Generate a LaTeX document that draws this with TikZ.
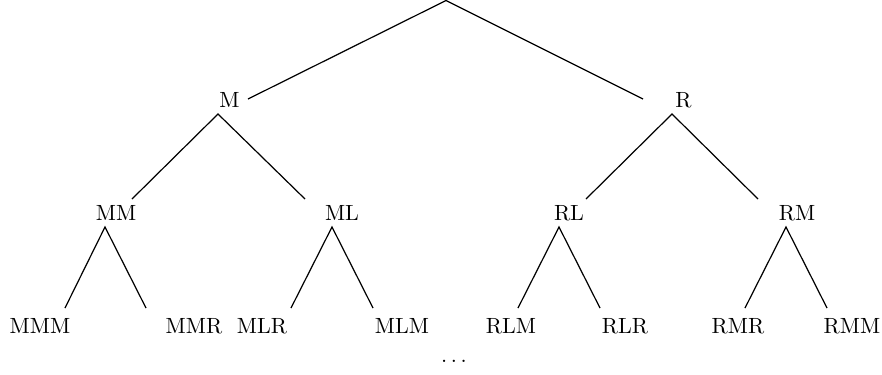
\documentclass[tikz,border=0pt]{standalone}
\begin{document}
\begin{tikzpicture}[x=0.4545pt,y=-0.4545pt,
  lbl/.style={inner sep=0pt, anchor=center},
  edge/.style={line width=0.55pt}]
\useasboundingbox (0,0) rectangle (882,374);
% labels
\node[lbl] (M) at (229.5,100) {M};
\node[lbl] (R) at (683.5,100) {R};
\node[lbl] (MM) at (116,213) {MM};
\node[lbl] (ML) at (342,213) {ML};
\node[lbl] (RL) at (569,213) {RL};
\node[lbl] (RM) at (797,213) {RM};
\node[lbl] (MMM) at (40,326) {MMM};
\node[lbl] (MMR) at (194,326) {MMR};
\node[lbl] (MLR) at (262,326) {MLR};
\node[lbl] (MLM) at (402,326) {MLM};
\node[lbl] (RLM) at (511,326) {RLM};
\node[lbl] (RLR) at (625,326) {RLR};
\node[lbl] (RMR) at (738,326) {RMR};
\node[lbl] (RMM) at (852,326) {RMM};
\node[lbl] (dots) at (454,361) {$\dots$};
% connector points
\coordinate (top) at (446,0.5);
\coordinate (eM) at (248,99);
\coordinate (eR) at (643,99);
\coordinate (aM) at (218,114);
\coordinate (eMM) at (132,199);
\coordinate (eML) at (305,199);
\coordinate (aR) at (672,114);
\coordinate (eRL) at (586,199);
\coordinate (eRM) at (758,199);
\coordinate (aMM) at (105,227);
\coordinate (eMMM) at (65,308);
\coordinate (eMMR) at (146,308);
\coordinate (aML) at (332,227);
\coordinate (eMLR) at (291,308);
\coordinate (eMLM) at (373,308);
\coordinate (aRL) at (559,227);
\coordinate (eRLM) at (518,308);
\coordinate (eRLR) at (600,308);
\coordinate (aRM) at (786,227);
\coordinate (eRMR) at (745,308);
\coordinate (eRMM) at (827,308);
% connectors
\draw[edge] (eM) -- (top) -- (eR);
\draw[edge] (eMM) -- (aM) -- (eML);
\draw[edge] (eRL) -- (aR) -- (eRM);
\draw[edge] (eMMM) -- (aMM) -- (eMMR);
\draw[edge] (eMLR) -- (aML) -- (eMLM);
\draw[edge] (eRLM) -- (aRL) -- (eRLR);
\draw[edge] (eRMR) -- (aRM) -- (eRMM);
\end{tikzpicture}
\end{document}
